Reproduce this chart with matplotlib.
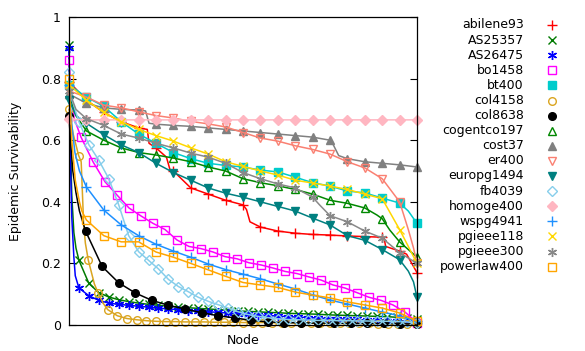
import numpy as np
import matplotlib.pyplot as plt
from matplotlib.lines import Line2D

# values on each series' marker grid (x = 0..1, evenly spaced), plus extra line-only points
abilene93_y = [0.79, 0.73, 0.69, 0.66, 0.64, 0.575, 0.50, 0.445, 0.425, 0.405, 0.39,
               0.318, 0.305, 0.298, 0.294, 0.292, 0.289, 0.287, 0.285, 0.24, 0.17]
abilene93_ex = ([0.225, 0.23, 0.28, 0.29, 0.51, 0.52, 0.905, 0.91, 0.97, 0.985],
                [0.635, 0.59, 0.545, 0.505, 0.375, 0.335, 0.284, 0.255, 0.23, 0.20])

AS25357_y = [0.91, 0.21, 0.135, 0.105, 0.091, 0.082, 0.076, 0.071, 0.067, 0.064, 0.061, 0.058,
             0.056, 0.054, 0.052, 0.05, 0.048, 0.046, 0.044, 0.043, 0.041, 0.04, 0.038, 0.037,
             0.036, 0.035, 0.033, 0.032, 0.031, 0.03, 0.029, 0.028, 0.027, 0.025, 0.023, 0.018]
AS25357_ex = ([0.003, 0.008, 0.014, 0.02], [0.65, 0.42, 0.30, 0.25])

AS26475_y = [0.90, 0.12, 0.095, 0.08, 0.071, 0.067, 0.064, 0.061, 0.058, 0.055, 0.052, 0.05,
             0.047, 0.045, 0.043, 0.041, 0.039, 0.037, 0.035, 0.033, 0.031, 0.029, 0.027, 0.026,
             0.024, 0.023, 0.021, 0.02, 0.019, 0.018, 0.016, 0.015, 0.014, 0.012, 0.011, 0.008]
AS26475_ex = ([0.003, 0.008, 0.014, 0.018], [0.60, 0.35, 0.22, 0.16])

bo1458_y = [0.86, 0.61, 0.53, 0.465, 0.422, 0.38, 0.354, 0.33, 0.31, 0.276, 0.255, 0.248,
            0.237, 0.222, 0.215, 0.202, 0.195, 0.185, 0.174, 0.167, 0.156, 0.146, 0.13, 0.12,
            0.105, 0.09, 0.08, 0.065, 0.042, 0.008]
bo1458_ex = ([0.006, 0.015], [0.75, 0.67])

bt400_y = [0.78, 0.74, 0.71, 0.66, 0.62, 0.59, 0.56, 0.54, 0.525, 0.518, 0.513,
           0.503, 0.497, 0.48, 0.462, 0.451, 0.435, 0.429, 0.412, 0.396, 0.33]
bt400_ex = ([0.975], [0.37])

col4158_y = [0.70, 0.55, 0.21, 0.105, 0.05, 0.03, 0.021, 0.017, 0.014, 0.012,
             0.011, 0.011, 0.01, 0.01, 0.01, 0.009, 0.009, 0.009, 0.008, 0.008, 0.008,
             0.007, 0.007, 0.007, 0.006, 0.006, 0.006, 0.006, 0.005, 0.005, 0.005, 0.005,
             0.004, 0.004, 0.004, 0.003, 0.003]
col4158_ex = ([0.012, 0.035, 0.042, 0.047, 0.073, 0.098], [0.62, 0.53, 0.33, 0.266, 0.133, 0.071])

col8638_y = [0.68, 0.305, 0.19, 0.137, 0.104, 0.08, 0.064, 0.052, 0.04, 0.03, 0.023,
             0.015, 0.01, 0.008, 0.007, 0.006, 0.006, 0.005, 0.005, 0.005, 0.004, 0.003]
col8638_ex = ([0.004, 0.011, 0.02, 0.03], [0.60, 0.50, 0.43, 0.37])

cogentco197_y = [0.75, 0.63, 0.60, 0.575, 0.56, 0.552, 0.542, 0.53, 0.513, 0.50, 0.475,
                 0.462, 0.452, 0.44, 0.425, 0.405, 0.395, 0.38, 0.345, 0.27, 0.22]
cogentco197_ex = ([0.02, 0.885, 0.922], [0.68, 0.357, 0.308])

cost37_y = [0.75, 0.72, 0.705, 0.70, 0.698, 0.652, 0.648, 0.645, 0.64, 0.635, 0.63,
            0.625, 0.62, 0.615, 0.61, 0.60, 0.54, 0.53, 0.525, 0.52, 0.513]
cost37_ex = ([0.22, 0.23, 0.755, 0.775], [0.695, 0.655, 0.595, 0.55])

er400_y = [0.76, 0.74, 0.714, 0.705, 0.692, 0.68, 0.672, 0.661, 0.653, 0.643, 0.625,
           0.607, 0.597, 0.582, 0.57, 0.555, 0.53, 0.51, 0.475, 0.40, 0.20]
er400_ex = ([0.975, 0.99], [0.31, 0.25])

europg1494_y = [0.73, 0.655, 0.618, 0.585, 0.56, 0.525, 0.495, 0.47, 0.445, 0.428, 0.415,
                0.40, 0.385, 0.37, 0.347, 0.325, 0.29, 0.275, 0.245, 0.212, 0.09]
europg1494_ex = ([0.02, 0.975, 0.99], [0.68, 0.175, 0.14])

fb4039_y = [0.82, 0.66, 0.585, 0.535, 0.475, 0.39, 0.29, 0.238, 0.21, 0.182, 0.148, 0.125,
            0.108, 0.09, 0.077, 0.066, 0.055, 0.043, 0.034, 0.028, 0.024, 0.02, 0.018, 0.017,
            0.016, 0.015, 0.015, 0.014, 0.014, 0.013, 0.013, 0.012, 0.012, 0.011, 0.01, 0.006]
fb4039_ex = ([0.006], [0.74])

homoge400_y = [0.668] + [0.666] * 20
homoge400_ex = ([], [])

wspg4941_y = [0.78, 0.448, 0.373, 0.325, 0.29, 0.262, 0.24, 0.22, 0.198, 0.18, 0.165,
              0.15, 0.133, 0.117, 0.098, 0.081, 0.068, 0.055, 0.042, 0.03, 0.012]
wspg4941_ex = ([0.008, 0.017, 0.03], [0.65, 0.56, 0.50])

pgieee118_y = [0.78, 0.73, 0.69, 0.66, 0.635, 0.615, 0.597, 0.575, 0.555, 0.53, 0.515,
               0.50, 0.487, 0.47, 0.461, 0.451, 0.44, 0.425, 0.41, 0.31, 0.20]
pgieee118_ex = ([0.915, 0.966], [0.38, 0.275])

pgieee300_y = [0.76, 0.67, 0.648, 0.62, 0.607, 0.59, 0.575, 0.558, 0.545, 0.525, 0.495,
               0.475, 0.458, 0.445, 0.415, 0.355, 0.335, 0.305, 0.282, 0.235, 0.20]
pgieee300_ex = ([0.02, 0.72], [0.70, 0.39])

powerlaw400_y = [0.80, 0.341, 0.29, 0.27, 0.27, 0.237, 0.22, 0.20, 0.179, 0.158, 0.138,
                 0.13, 0.122, 0.107, 0.097, 0.088, 0.075, 0.065, 0.055, 0.039, 0.012]
powerlaw400_ex = ([0.008, 0.018, 0.03, 0.037], [0.60, 0.47, 0.40, 0.37])

names = ['abilene93', 'AS25357', 'AS26475', 'bo1458', 'bt400', 'col4158', 'col8638',
         'cogentco197', 'cost37', 'er400', 'europg1494', 'fb4039', 'homoge400',
         'wspg4941', 'pgieee118', 'pgieee300', 'powerlaw400']
values = [abilene93_y, AS25357_y, AS26475_y, bo1458_y, bt400_y, col4158_y, col8638_y,
          cogentco197_y, cost37_y, er400_y, europg1494_y, fb4039_y, homoge400_y,
          wspg4941_y, pgieee118_y, pgieee300_y, powerlaw400_y]
extras = [abilene93_ex, AS25357_ex, AS26475_ex, bo1458_ex, bt400_ex, col4158_ex, col8638_ex,
          cogentco197_ex, cost37_ex, er400_ex, europg1494_ex, fb4039_ex, homoge400_ex,
          wspg4941_ex, pgieee118_ex, pgieee300_ex, powerlaw400_ex]

asterisk = (6, 2, 0)
# (colour, marker, filled)
styles = [
    ('#ff0000', '+', True),
    ('#007a00', 'x', True),
    ('#0000ff', asterisk, True),
    ('#ff00ff', 's', False),
    ('#00cccc', 's', True),
    ('#daa520', 'o', False),
    ('#000000', 'o', True),
    ('#008800', '^', False),
    ('#808080', '^', True),
    ('#fa8072', 'v', False),
    ('#008080', 'v', True),
    ('#87ceeb', 'D', False),
    ('#ffb6c1', 'D', True),
    ('#1e90ff', '+', True),
    ('#ffd700', 'x', True),
    ('#888888', asterisk, True),
    ('#ffa500', 's', False),
]
msize = {'+': 7, 'x': 6, 's': 5.5, 'o': 5.5, '^': 6, 'v': 6, 'D': 5, asterisk: 6.5}

W, H = 585, 351
fig = plt.figure(figsize=(W / 100, H / 100), dpi=100)
ax = fig.add_axes([69 / W, 26 / H, 348 / W, 308 / H])

for name, ys, (ex_x, ex_y), (col, mk, filled) in zip(names, values, extras, styles):
    gx = np.linspace(0, 1, len(ys))
    x = np.concatenate([gx, np.array(ex_x, dtype=float)])
    y = np.concatenate([np.array(ys, dtype=float), np.array(ex_y, dtype=float)])
    order = np.argsort(x, kind='stable')
    marks = list(np.where(order < len(ys))[0])
    ax.plot(x[order], y[order], color=col, lw=1.1, marker=mk, ms=msize[mk],
            mfc=col if filled else 'none', mec=col, mew=1.0,
            markevery=marks, clip_on=False)

ax.set_xlim(0, 1)
ax.set_ylim(0, 1)
ax.set_xticks([])
ax.set_yticks([0, 0.2, 0.4, 0.6, 0.8, 1])
ax.set_yticklabels(['0', '0.2', '0.4', '0.6', '0.8', '1'])
ax.tick_params(axis='y', direction='in', length=5, width=0.8, right=True,
               labelsize=9, pad=6)
for s in ax.spines.values():
    s.set_linewidth(0.9)

fig.text(16 / W, 1 - 171 / H, 'Epidemic Survivability', rotation=90,
         ha='center', va='center', fontsize=9)
fig.text(243 / W, 1 - 341 / H, 'Node', ha='center', va='center', fontsize=9)

# key on the right: label right-aligned, sample marker after it
for i, (name, (col, mk, filled)) in enumerate(zip(names, styles)):
    yy = 1 - (25 + 15.1 * i) / H
    fig.text(524 / W, yy, name, ha='right', va='center', fontsize=9)
    fig.add_artist(Line2D([552 / W], [yy], transform=fig.transFigure, ls='none',
                          marker=mk, ms=msize[mk], mfc=col if filled else 'none',
                          mec=col, mew=1.0))

fig.savefig('out.png', dpi=100)
